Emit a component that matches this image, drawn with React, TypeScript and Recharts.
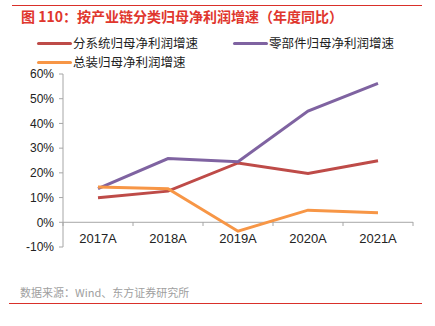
import React from 'react'
import { LineChart, Line, XAxis, YAxis, ReferenceLine } from 'recharts'

const years = ['2017A', '2018A', '2019A', '2020A', '2021A']
const subsystem = [9.9, 12.6, 24.0, 19.7, 24.9]
const parts = [13.6, 25.8, 24.5, 45.0, 56.2]
const assembly = [14.3, 13.6, -3.6, 4.9, 3.9]
const yTicks = [-10, 0, 10, 20, 30, 40, 50, 60]

const seriesList = [
    { key: 'subsystem', name: '分系统归母净利润增速', color: '#be4b48' },
    { key: 'parts', name: '零部件归母净利润增速', color: '#7f63a1' },
    { key: 'assembly', name: '总装归母净利润增速', color: '#f79646' },
]

const FONT = '"Liberation Sans", Arial, "Noto Sans CJK SC", sans-serif'
const CJK = '"Noto Sans CJK SC", "Liberation Sans", sans-serif'
const HALF_BAND = 35

const data = years.map((year, i) => ({
    year,
    subsystem: subsystem[i],
    parts: parts[i],
    assembly: assembly[i],
}))

// x tick labels sit just under the 0% line, with marks between categories
function YearTick(props: any) {
    const { x, y, payload, index } = props
    const zeroY = y - 25
    return (
        <g>
            <line x1={x - HALF_BAND} x2={x - HALF_BAND} y1={zeroY} y2={zeroY + 4} stroke="#a6a6a6" />
            {index === years.length - 1 && (
                <line x1={x + HALF_BAND} x2={x + HALF_BAND} y1={zeroY} y2={zeroY + 4} stroke="#a6a6a6" />
            )}
            <text x={x} y={y - 4} textAnchor="middle" fontSize={13} fill="#222" fontFamily={FONT}>
                {payload.value}
            </text>
        </g>
    )
}

function LegendItem({ name, color }: { name: string; color: string }) {
    return (
        <div style={{ display: 'flex', alignItems: 'center', height: 14 }}>
            <div style={{ width: 35, height: 3, background: color, borderRadius: 1.5, marginRight: 1 }} />
            <span style={{ fontSize: 12.5, lineHeight: '14px', color: '#222', fontFamily: CJK, whiteSpace: 'nowrap' }}>{name}</span>
        </div>
    )
}

export default function App() {
    return (
        <div style={{ position: 'absolute', left: 0, top: 0, width: 435, height: 326, background: '#fff' }}>
            <div style={{ position: 'absolute', left: 12, top: 5, width: 410, height: 1, background: '#d9302a' }} />
            <div style={{ position: 'absolute', left: 21, top: 6, fontSize: 14, fontWeight: 'bold', color: '#e0362d', fontFamily: CJK, whiteSpace: 'nowrap' }}>
                图 110：按产业链分类归母净利润增速（年度同比）
            </div>

            <div style={{ position: 'absolute', left: 37, top: 36 }}>
                <LegendItem name={seriesList[0].name} color={seriesList[0].color} />
            </div>
            <div style={{ position: 'absolute', left: 233, top: 36 }}>
                <LegendItem name={seriesList[1].name} color={seriesList[1].color} />
            </div>
            <div style={{ position: 'absolute', left: 37, top: 55 }}>
                <LegendItem name={seriesList[2].name} color={seriesList[2].color} />
            </div>

            <div style={{ position: 'absolute', left: 0, top: 0 }}>
                <LineChart width={435} height={326} data={data} margin={{ top: 74, right: 22, bottom: 49, left: 0 }}>
                    <XAxis
                        dataKey="year"
                        height={30}
                        axisLine={false}
                        tickLine={false}
                        tickSize={0}
                        tickMargin={0}
                        padding={{ left: HALF_BAND, right: HALF_BAND }}
                        tick={<YearTick />}
                        interval={0}
                    />
                    <YAxis
                        width={63}
                        domain={[-10, 60]}
                        ticks={yTicks}
                        interval={0}
                        tickFormatter={(v: number) => `${v}%`}
                        axisLine={{ stroke: '#a6a6a6' }}
                        tickLine={{ stroke: '#a6a6a6' }}
                        tickSize={4}
                        tickMargin={5}
                        tick={{ fontSize: 12, fill: '#222', fontFamily: FONT }}
                    />
                    <ReferenceLine y={0} stroke="#a6a6a6" />
                    {seriesList.map(s => (
                        <Line
                            key={s.key}
                            type="linear"
                            dataKey={s.key}
                            name={s.name}
                            stroke={s.color}
                            strokeWidth={3}
                            dot={false}
                            activeDot={false}
                            isAnimationActive={false}
                        />
                    ))}
                </LineChart>
            </div>

            <div style={{ position: 'absolute', left: 20, top: 284, fontSize: 11, color: '#a0a0a0', fontFamily: CJK, whiteSpace: 'nowrap' }}>
                数据来源：Wind、东方证券研究所
            </div>
            <div style={{ position: 'absolute', left: 9, top: 303, width: 413, height: 1, background: '#d9302a' }} />
        </div>
    )
}
